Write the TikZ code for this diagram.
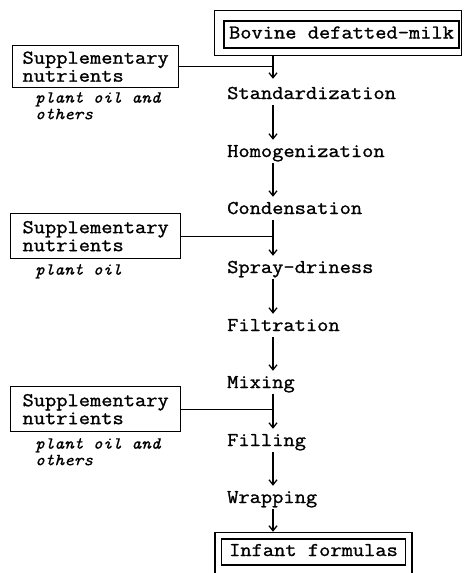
\documentclass[tikz,border=0pt]{standalone}
\usepackage{fontspec}
\newfontfamily\tyf[FakeStretch=1.12,FakeBold=1.2]{Latin Modern Mono}
\newfontfamily\tyi[FakeStretch=1.08,FakeBold=0.5]{Latin Modern Mono}
\usetikzlibrary{arrows.meta,calc}
\begin{document}
\begin{tikzpicture}[x=1pt,y=-1pt,
  every node/.style={font=\tyf\fontsize{19.5}{18}\selectfont},
  stepnode/.style={anchor=base west, inner sep=0pt, text height=12pt, text depth=4pt},
  framebox/.style={draw, line width=1.3pt, inner ysep=0pt, text height=12pt, text depth=4pt},
  suppbox/.style={draw, line width=1.3pt, align=left, minimum width=168pt, minimum height=43pt, inner sep=0pt, anchor=north west},
  note/.style={anchor=north west, inner sep=0pt, align=left, font=\tyi\itshape\fontsize{17}{16.5}\selectfont},
  flow/.style={line width=1.3pt, -{Straight Barb[length=5pt,width=8pt,line width=1.3pt]}, shorten <=2pt, shorten >=5pt},
  link/.style={line width=1.3pt}
]
\useasboundingbox (0,0) rectangle (464,573);
\coordinate (ax) at (273,0);

% top double box
\node[framebox, inner xsep=5pt, minimum height=27pt] (bov) at (341.5,34.5) {Bovine defatted-milk};
\draw[line width=1.3pt] ($(bov.north west)+(-9,-10)$) rectangle ($(bov.south east)+(2,7)$);
\coordinate (bovout) at ($(bov.south)+(0,7)$);

% process steps
\node[stepnode] (std) at (227,99) {Standardization};
\node[stepnode] (hom) at (227,157) {Homogenization};
\node[stepnode] (con) at (227,214) {Condensation};
\node[stepnode] (spr) at (227,273) {Spray-driness};
\node[stepnode] (fil) at (227,331) {Filtration};
\node[stepnode] (mix) at (227,388) {Mixing};
\node[stepnode] (fll) at (227,446) {Filling};
\node[stepnode] (wra) at (227,503) {Wrapping};

% bottom double box
\node[framebox, inner xsep=7.5pt, minimum height=26pt] (inf) at (313.5,552) {Infant formulas};
\draw[line width=1.3pt] ($(inf.north west)+(-6,-6)$) rectangle ($(inf.south east)+(6,12)$);
\coordinate (infout) at ($(inf.north)+(0,-6)$);

% supplementary boxes
\node[suppbox, minimum width=166pt, minimum height=42pt] (s1) at (12,45) {Supplementary\\nutrients};
\node[suppbox, minimum width=170pt, minimum height=45pt] (s2) at (10,213) {Supplementary\\nutrients};
\node[suppbox, minimum width=170pt, minimum height=45pt] (s3) at (10,386) {Supplementary\\nutrients};

\node[note] (n1) at (35,92) {plant oil and\\others};
\node[note] (n2) at (35,264) {plant oil};
\node[note] (n3) at (35,438) {plant oil and\\others};

% flow arrows
\draw[flow, shorten <=0pt, shorten >=8pt] (bovout -| ax) -- (std.north -| ax);
\draw[flow] (std.south -| ax) -- (hom.north -| ax);
\draw[flow] (hom.south -| ax) -- (con.north -| ax);
\draw[flow] (con.south -| ax) -- (spr.north -| ax);
\draw[flow] (spr.south -| ax) -- (fil.north -| ax);
\draw[flow] (fil.south -| ax) -- (mix.north -| ax);
\draw[flow] (mix.south -| ax) -- (fll.north -| ax);
\draw[flow] (fll.south -| ax) -- (wra.north -| ax);
\draw[flow, shorten >=0.6pt] (wra.south -| ax) -- (infout -| ax);

% supplement links
\draw[link] (s1.east) -- (s1.east -| ax);
\draw[link] (s2.east) -- (s2.east -| ax);
\draw[link] (s3.east) -- (s3.east -| ax);
\end{tikzpicture}
\end{document}
